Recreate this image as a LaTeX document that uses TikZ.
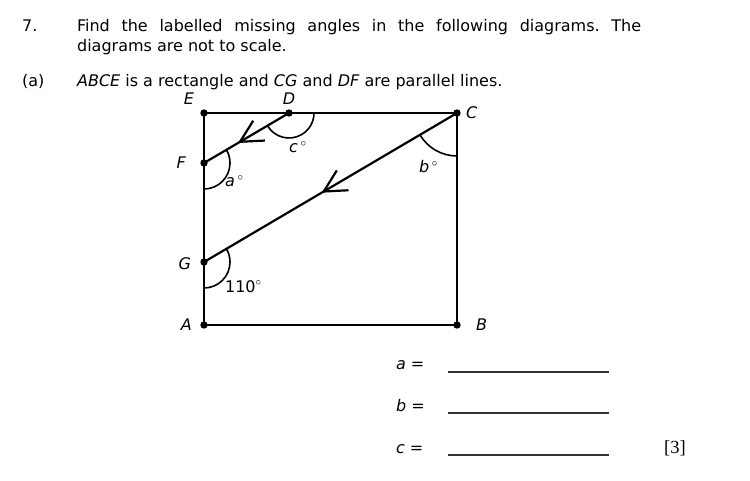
\documentclass[tikz,border=0pt]{standalone}
\usepackage{fontspec}
\setmainfont{DejaVu Sans}
\newfontfamily\markfont{Liberation Serif}
\frenchspacing
\usetikzlibrary{angles,quotes}
\usetikzlibrary{calc}
\usetikzlibrary{arrows.meta,decorations.markings}
\tikzset{
  midarrow/.style={postaction={decorate},decoration={markings,
      mark=at position #1 with {\arrow{Straight Barb[length=22pt,width=23pt]}}}},
  ptlabel/.style={inner sep=0pt, font=\fontsize{16}{20}\selectfont\itshape},
  anglab/.style={anchor=base west, inner sep=0pt},
  txt/.style={anchor=base west, inner sep=0pt},
  answerline/.style={line width=1.2pt, black!80}
}

\begin{document}
\begin{tikzpicture}[x=1pt, y=1pt, line width=2.2pt, font=\fontsize{16}{20}\selectfont]
  \useasboundingbox (0,0) rectangle (750,480);
  % question text
  \node[txt] (qnum) at (21,448) {7.};
  \node[txt] (qtext) at (76,448) {\parbox[t]{564pt}{Find the labelled missing angles in the following diagrams. The\linebreak diagrams are not to scale.}};
  \node[txt] (qpart) at (21,393) {(a)};
  \node[txt] (qparttext) at (76,393) {\textit{ABCE} is a rectangle and \textit{CG} and \textit{DF} are parallel lines.};
  % points
  \coordinate (A) at (204,155);
  \coordinate (B) at (457,155);
  \coordinate (C) at (457,367);
  \coordinate (E) at (204,367);
  \coordinate (D) at (289,367);
  \coordinate (F) at (204,317);
  \coordinate (G) at (204,218);
  \draw (A) -- (B) -- (C) -- (E) -- cycle;
  \draw[midarrow=0.6] (D) -- (F);
  \draw[midarrow=0.535] (C) -- (G);
  \foreach \p in {A,B,C,D,E,F,G}
    \fill (\p) circle (3.7pt);
  % point labels
  \node[ptlabel, above=7pt, xshift=-15pt] (lE) at (E) {E};
  \node[ptlabel, above=7pt] (lD) at (D) {D};
  \node[ptlabel, right=8pt] (lC) at (C) {C};
  \node[ptlabel, left=17pt] (lF) at (F) {F};
  \node[ptlabel, left=12pt, yshift=-2pt] (lG) at (G) {G};
  \node[ptlabel, left=11pt] (lA) at (A) {A};
  \node[ptlabel, right=18pt] (lB) at (B) {B};
  % mark angles
  \path pic[draw, line width=1.6pt, angle radius=25pt] {angle = F--D--C};
  \path pic[draw, line width=1.6pt, angle radius=26pt] {angle = A--F--D};
  \path pic[draw, line width=1.6pt, angle radius=26pt] {angle = A--G--C};
  \path pic[draw, line width=1.6pt, angle radius=43pt] {angle = G--C--B};
  \node[anglab] (angc) at ($(D)+(-1,-40)$) {\textit{c}\,$^\circ$};
  \node[anglab] (anga) at ($(F)+(20,-24)$) {\textit{a}\,$^\circ$};
  \node[anglab] (angb) at ($(C)+(-39,-60)$) {\textit{b}\,$^\circ$};
  \node[anglab] (angg) at ($(G)+(20,-30)$) {110$^\circ$};
  % answers
  \node[txt] (ansa) at (395,111) {\textit{a} =};
  \node[txt] (ansb) at (395,69) {\textit{b} =};
  \node[txt] (ansc) at (395,27) {\textit{c} =};
  \draw[answerline] (448,108) -- (609,108);
  \draw[answerline] (448,67) -- (609,67);
  \draw[answerline] (448,25) -- (609,25);
  \node[txt, font=\markfont\fontsize{18.5}{22}\selectfont] (marks) at (663,27) {[3]};
\end{tikzpicture}
\end{document}
